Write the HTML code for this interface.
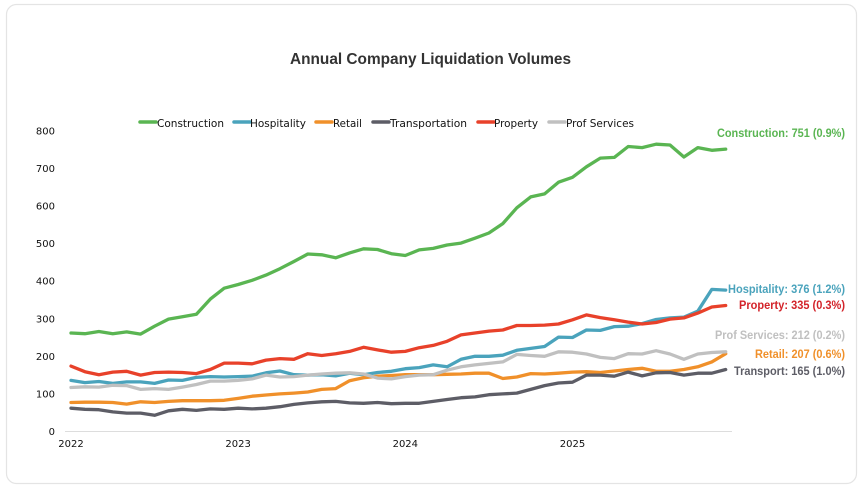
<!DOCTYPE html>
<html lang="en">
<head>
<meta charset="utf-8">
<title>Annual Company Liquidation Volumes</title>
<style>
html,body{margin:0;padding:0;background:#fff;width:863px;height:494px;overflow:hidden}
svg{display:block}
.tick{font:10px "DejaVu Sans",sans-serif;fill:#111}
.leg{font:10.5px "DejaVu Sans",sans-serif;fill:#111}
.end{font:bold 11.5px "Liberation Sans",sans-serif}
</style>
</head>
<body>
<svg id="chart" width="863" height="494" viewBox="0 0 863 494" xmlns="http://www.w3.org/2000/svg">
  <rect x="6.5" y="4.5" width="850" height="479" rx="10" fill="#fff" stroke="#e4e4e4" stroke-width="1.2"/>
  <text x="430.5" y="64" text-anchor="middle" textLength="281" lengthAdjust="spacingAndGlyphs" style="font:bold 16px 'Liberation Sans',sans-serif;fill:#333">Annual Company Liquidation Volumes</text>
  <line x1="65" y1="431.5" x2="732" y2="431.5" stroke="#ddd" stroke-width="1"/>
  <g id="ticks"></g>
  <g id="lines"></g>
  <g id="legend">
    <line x1="140" y1="122" x2="156" y2="122" stroke="#5ab552" stroke-width="3.5" stroke-linecap="round"/>
    <text class="leg" x="157" y="127" textLength="67" lengthAdjust="spacingAndGlyphs">Construction</text>
    <line x1="234" y1="122" x2="250" y2="122" stroke="#4aa3bc" stroke-width="3.5" stroke-linecap="round"/>
    <text class="leg" x="250" y="127" textLength="56" lengthAdjust="spacingAndGlyphs">Hospitality</text>
    <line x1="316" y1="122" x2="332" y2="122" stroke="#f0902a" stroke-width="3.5" stroke-linecap="round"/>
    <text class="leg" x="333" y="127" textLength="29" lengthAdjust="spacingAndGlyphs">Retail</text>
    <line x1="373" y1="122" x2="389" y2="122" stroke="#5d5d66" stroke-width="3.5" stroke-linecap="round"/>
    <text class="leg" x="390" y="127" textLength="77" lengthAdjust="spacingAndGlyphs">Transportation</text>
    <line x1="478" y1="122" x2="494" y2="122" stroke="#e8412a" stroke-width="3.5" stroke-linecap="round"/>
    <text class="leg" x="494" y="127" textLength="44" lengthAdjust="spacingAndGlyphs">Property</text>
    <line x1="549" y1="122" x2="565" y2="122" stroke="#c0c0c0" stroke-width="3.5" stroke-linecap="round"/>
    <text class="leg" x="566" y="127" textLength="68" lengthAdjust="spacingAndGlyphs">Prof Services</text>
  </g>
  <g id="end-labels">
    <text class="end" x="845" y="137" text-anchor="end" fill="#5ab552" textLength="128" lengthAdjust="spacingAndGlyphs">Construction: 751 (0.9%)</text>
    <text class="end" x="845" y="293" text-anchor="end" fill="#4aa3bc" textLength="117" lengthAdjust="spacingAndGlyphs">Hospitality: 376 (1.2%)</text>
    <text class="end" x="845" y="309" text-anchor="end" fill="#d3232a" textLength="106" lengthAdjust="spacingAndGlyphs">Property: 335 (0.3%)</text>
    <text class="end" x="845" y="339" text-anchor="end" fill="#c0c0c0" textLength="130" lengthAdjust="spacingAndGlyphs">Prof Services: 212 (0.2%)</text>
    <text class="end" x="845" y="358" text-anchor="end" fill="#f0902a" textLength="90" lengthAdjust="spacingAndGlyphs">Retail: 207 (0.6%)</text>
    <text class="end" x="845" y="375" text-anchor="end" fill="#5d5d66" textLength="111" lengthAdjust="spacingAndGlyphs">Transport: 165 (1.0%)</text>
  </g>
</svg>
<script>
var yTickLabels = [0, 100, 200, 300, 400, 500, 600, 700, 800];
var xTickLabels = ["2022", "2023", "2024", "2025"];
var construction = [262,260,266,260,265,259,280,299,305,312,352,381, 391,402,416,433,452,472,470,462,475,486,484,473, 468,483,487,496,501,514,528,553,595,624,632,663, 676,704,727,729,758,755,764,762,730,755,748,751];
var hospitality = [136,130,133,128,132,132,128,137,136,144,146,145, 146,147,156,161,151,150,151,148,155,151,157,160, 167,170,177,172,192,200,200,203,216,221,226,251, 250,270,269,279,280,287,298,302,304,320,378,376];
var retail = [77,78,78,77,73,79,77,80,82,82,82,83, 88,94,97,100,102,105,112,114,135,143,147,149, 151,151,151,152,153,155,155,141,145,154,153,155, 158,159,157,161,165,168,160,160,165,172,185,207];
var transportation = [62,59,58,52,49,49,43,55,59,56,60,59, 62,60,62,66,72,76,79,80,76,75,77,74, 75,75,80,85,90,92,98,100,102,112,122,129, 131,150,150,147,158,148,156,157,150,155,155,165];
var property = [174,159,151,158,160,150,157,158,157,154,165,182, 182,180,190,194,192,207,202,207,213,224,217,211, 213,223,229,240,257,262,267,270,282,282,283,286, 297,310,303,297,291,286,290,299,302,315,331,335];
var profServices = [117,119,118,123,122,112,114,112,118,125,134,134, 136,140,150,145,146,150,153,155,156,153,142,140, 146,150,151,163,172,177,181,185,205,202,200,212, 211,206,197,194,207,206,215,206,192,206,210,212];

var NS = 'http://www.w3.org/2000/svg';
function xScale(i) { return 71 + i * (725.7 - 71) / 47; }
function yScale(v) { return 431.5 - v * (431.5 - 130.7) / 800; }

var ticks = document.getElementById('ticks');
yTickLabels.forEach(function (v) {
  var t = document.createElementNS(NS, 'text');
  
  
  t.setAttribute('class', 'tick');
  t.setAttribute('x', 55);
  t.setAttribute('y', yScale(v) + 3.6);
  t.setAttribute('text-anchor', 'end');
  t.textContent = v;
  ticks.appendChild(t);
});
xTickLabels.forEach(function (label, i) {
  var t = document.createElementNS(NS, 'text');
  
  
  t.setAttribute('class', 'tick');
  t.setAttribute('x', xScale(i * 12));
  t.setAttribute('y', 447);
  t.setAttribute('text-anchor', 'middle');
  t.textContent = label;
  ticks.appendChild(t);
});

var lines = document.getElementById('lines');
function drawSeries(values, color) {
  var p = document.createElementNS(NS, 'polyline');
  
  
  p.setAttribute('fill', 'none');
  p.setAttribute('stroke', color);
  p.setAttribute('stroke-width', '3.3');
  p.setAttribute('stroke-linejoin', 'round');
  p.setAttribute('stroke-linecap', 'round');
  p.setAttribute('points', values.map(function (v, i) {
    return xScale(i).toFixed(1) + ',' + yScale(v).toFixed(1);
  }).join(' '));
  lines.appendChild(p);
}
drawSeries(construction, '#5ab552');
drawSeries(hospitality, '#4aa3bc');
drawSeries(retail, '#f0902a');
drawSeries(transportation, '#5d5d66');
drawSeries(profServices, '#c0c0c0');
drawSeries(property, '#e8412a');
</script>
</body>
</html>
